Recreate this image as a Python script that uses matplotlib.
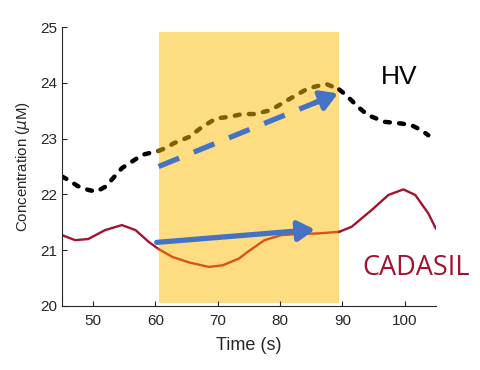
import matplotlib
matplotlib.use("Agg")
import matplotlib.pyplot as plt
import numpy as np

# healthy volunteers (HV)
hv_t = [45, 46, 47.5, 49.2, 50.5, 52, 54.6, 57.9, 60.5, 61.6, 63, 65.4, 67.5, 69.7,
        71.8, 74, 75.9, 78.5, 81.2, 84.5, 87.4, 89.5, 90.6, 92.5, 94.1, 96.8,
        99.5, 101.1, 102.7, 103.8]
hv_c = [22.32, 22.26, 22.15, 22.08, 22.05, 22.14, 22.47, 22.71, 22.78, 22.83, 22.92,
        23.03, 23.21, 23.36, 23.39, 23.44, 23.44, 23.51, 23.69, 23.90, 23.98, 23.88,
        23.78, 23.57, 23.42, 23.30, 23.27, 23.24, 23.15, 23.06]

# CADASIL patients
cad_t = [45, 47.1, 49.2, 51.9, 54.6, 56.8, 58.9, 60.5, 62.7, 65.4, 68.6, 70.8, 73.4,
         74.8, 77.5, 80.2, 82.9, 86.1, 89.5, 91.5, 94.7, 97.4, 99.8, 101.7, 103.8, 105]
cad_c = [21.27, 21.18, 21.20, 21.36, 21.45, 21.36, 21.15, 21.02, 20.88, 20.78, 20.70,
         20.73, 20.85, 20.97, 21.18, 21.27, 21.29, 21.30, 21.33, 21.42, 21.72, 21.99,
         22.09, 21.99, 21.66, 21.39]

# stimulation window
stim_t = [60.5, 89.5]
stim_c = [20.06, 24.91]

# trend arrows (start, end)
hv_arrow = [(60.5, 22.50), (89.3, 23.81)]
cad_arrow = [(60.2, 21.14), (85.6, 21.37)]

BLUE = "#4472C4"
OLIVE = "#7F6000"
RED = "#A2142F"
ORANGE = "#D95319"
AX = "#262626"

plt.rcParams["font.family"] = ["Liberation Sans", "DejaVu Sans"]

fig = plt.figure(figsize=(4.81, 3.70), dpi=100)
ax = fig.add_axes([0.129, 0.173, 0.777, 0.754])

ax.fill_between(stim_t, stim_c[0], stim_c[1], color="#FEDD82", lw=0, zorder=0)


def split(t, c, lo, hi):
    t = np.asarray(t)
    c = np.asarray(c)
    before = t <= lo
    inside = (t >= lo) & (t <= hi)
    after = t >= hi
    return (t[before], c[before]), (t[inside], c[inside]), (t[after], c[after])


b, i, a = split(hv_t, hv_c, *stim_t)
dash = dict(lw=3.2, dashes=(1.1, 2.1), dash_capstyle="round")
ax.plot(*b, color="black", **dash)
ax.plot(*i, color=OLIVE, **dash)
ax.plot(*a, color="black", **dash)

b, i, a = split(cad_t, cad_c, *stim_t)
ax.plot(*b, color=RED, lw=1.7)
ax.plot(*i, color=ORANGE, lw=1.7)
ax.plot(*a, color=RED, lw=1.7)

head = "-|>,head_length=1.0,head_width=0.6"

# HV trend arrow: dashed shaft + head
(x0, y0), (x1, y1) = hv_arrow
f = 0.9
xb, yb = x0 + f * (x1 - x0), y0 + f * (y1 - y0)
ax.plot([x0, xb], [y0, yb], color=BLUE, lw=3.8, dashes=(4.2, 3.0), dash_capstyle="butt")
ax.annotate("", xy=(x1, y1), xytext=(xb - 0.3 * (x1 - xb), yb - 0.3 * (y1 - yb)),
            arrowprops=dict(arrowstyle=head, color=BLUE, lw=3.8, shrinkA=0, shrinkB=0))

# CADASIL trend arrow
(x0, y0), (x1, y1) = cad_arrow
ax.annotate("", xy=(x1, y1), xytext=(x0, y0),
            arrowprops=dict(arrowstyle=head, color=BLUE, lw=3.8, shrinkA=0, shrinkB=0))

ax.text(99.1, 24.1, "HV", fontsize=19, color="black", ha="center", va="center")
ax.text(101.9, 20.68, "CADASIL", fontsize=19.5, color=RED, ha="center", va="center",
        family=["Open Sans", "DejaVu Sans"])

ax.set_xlim(45, 105)
ax.set_ylim(20, 25)
ax.set_xticks([50, 60, 70, 80, 90, 100])
ax.set_yticks([20, 21, 22, 23, 24, 25])
ax.tick_params(direction="in", length=3.5, width=0.8, colors=AX, labelsize=11)
ax.tick_params(axis="x", pad=6)
ax.spines[["top", "right"]].set_visible(False)
for s in ("left", "bottom"):
    ax.spines[s].set_color(AX)
    ax.spines[s].set_linewidth(0.8)

ax.set_xlabel("Time (s)", fontsize=13, color=AX)
ax.set_ylabel(r"Concentration ($\mu$M)", fontsize=10.8, color=AX)
ax.xaxis.set_label_coords(0.5, -0.112)
ax.yaxis.set_label_coords(-0.08, 0.5)

fig.savefig("out.png", dpi=100)
